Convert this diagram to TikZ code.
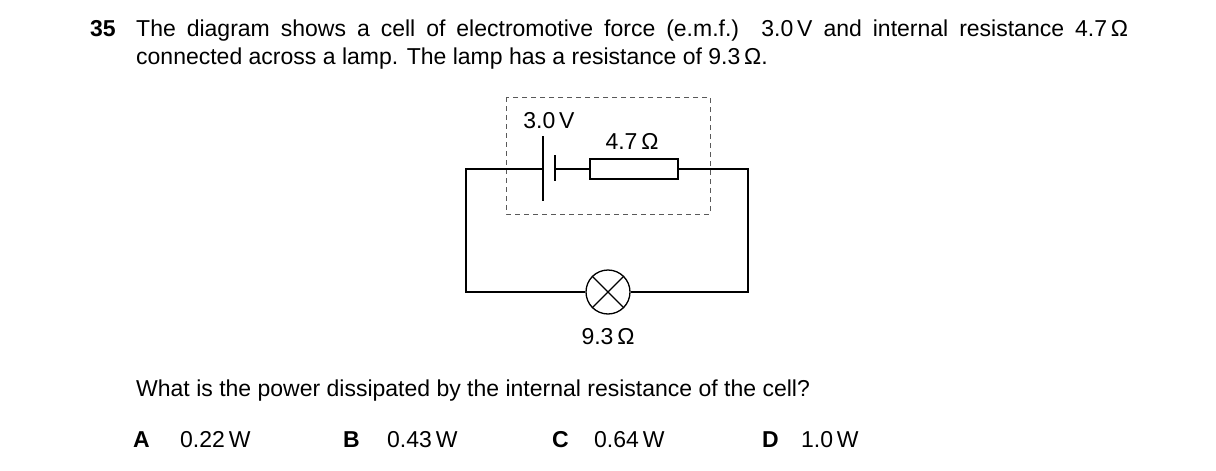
\documentclass[tikz,border=0pt]{standalone}
\usepackage{fontspec}
\setmainfont{Liberation Sans}
\begin{document}
\begin{tikzpicture}[x=1pt,y=-1pt,
  txt/.style={inner sep=0pt,anchor=base west,font=\fontsize{23}{27}\selectfont},
  lbl/.style={inner sep=0pt,anchor=base,font=\fontsize{23}{27}\selectfont},
  wire/.style={line width=1.3pt}]
\useasboundingbox (0,0) rectangle (1216,471);
\node[txt,font=\fontsize{23}{27}\selectfont\bfseries] (n) at (90,36) {35};
\node[txt] (l1) at (136,36) {\makebox[992pt][s]{The diagram shows a cell of electromotive force (e.m.f.) 3.0\,V and internal resistance 4.7\,Ω}};
\node[txt] (l2) at (136,64) {connected across a lamp. The lamp has a resistance of 9.3\,Ω.};
% dashed box
\draw[dash pattern=on 5pt off 4pt,line width=1pt,gray!70!black] (506,97) rectangle (710,214);
% circuit
\coordinate (tl) at (466,169); \coordinate (tr) at (748,169);
\coordinate (bl) at (466,292); \coordinate (br) at (748,292);
\node[draw,wire,circle,minimum size=44pt,inner sep=0pt] (lamp) at (608,292) {};
\draw[wire] (lamp.north west) -- (lamp.south east) (lamp.north east) -- (lamp.south west);
\node[draw,wire,minimum width=88pt,minimum height=20pt,inner sep=0pt] (res) at (634,169) {};
\coordinate (p1) at (543,169); \coordinate (p2) at (555,169);
\draw[wire] (543,136) -- (543,201);
\draw[wire] (555,155) -- (555,181);
\draw[wire] (p1) -- (tl) -- (bl) -- (lamp.west);
\draw[wire] (lamp.east) -- (br) -- (tr) -- (res.east);
\draw[wire] (res.west) -- (p2);
\node[lbl] (v) at (549,128) {3.0\,V};
\node[lbl] (r) at (632,149) {4.7\,Ω};
\node[lbl] (rl) at (608,344) {9.3\,Ω};
\node[txt] (q) at (136,396) {What is the power dissipated by the internal resistance of the cell?};
\node[txt,font=\fontsize{23}{27}\selectfont\bfseries] (a) at (133,447) {A};
\node[txt] (av) at (180,447) {0.22\,W};
\node[txt,font=\fontsize{23}{27}\selectfont\bfseries] (b) at (343,447) {B};
\node[txt] (bv) at (387,447) {0.43\,W};
\node[txt,font=\fontsize{23}{27}\selectfont\bfseries] (c) at (552,447) {C};
\node[txt] (cv) at (594,447) {0.64\,W};
\node[txt,font=\fontsize{23}{27}\selectfont\bfseries] (d) at (762,447) {D};
\node[txt] (dv) at (801,447) {1.0\,W};
\end{tikzpicture}
\end{document}
